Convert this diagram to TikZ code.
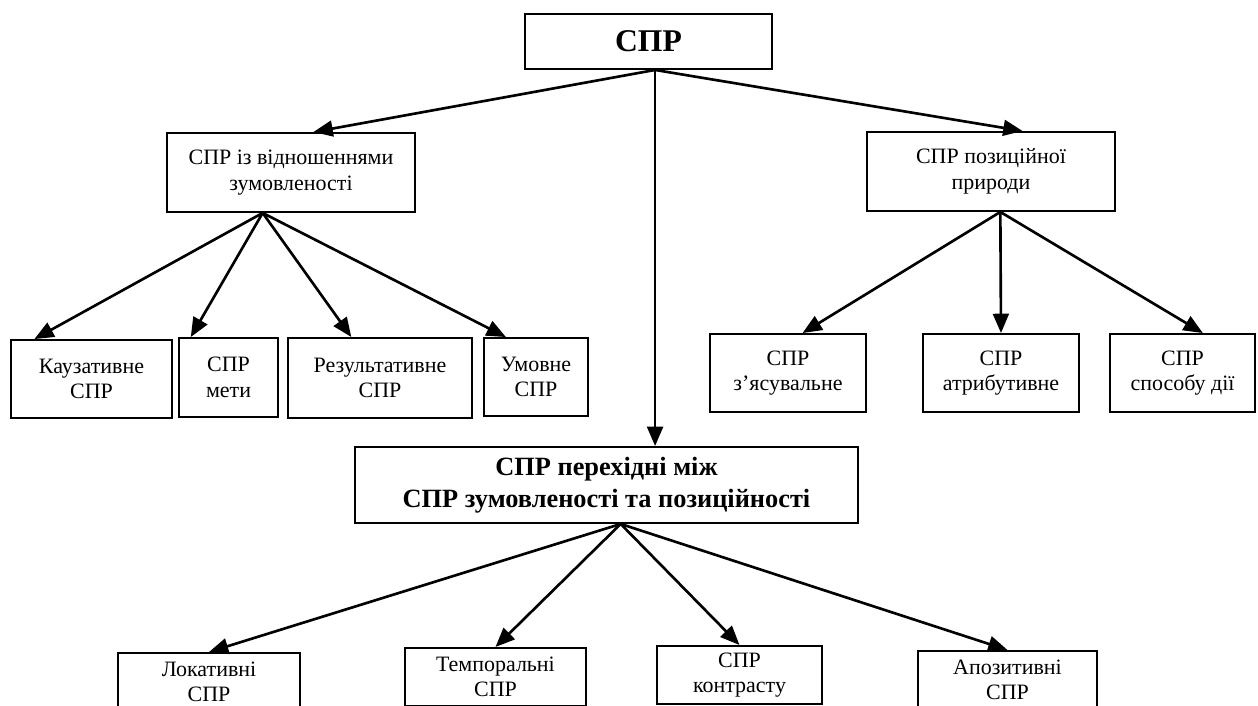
\documentclass[tikz,border=0pt]{standalone}
\usepackage{fontspec}
\setmainfont{Liberation Serif}
\usetikzlibrary{arrows.meta,positioning}

\begin{document}
\begin{tikzpicture}[
    x=0.02cm, y=-0.02cm,
    blk/.style={rectangle, draw, line width=1.1pt, align=center, inner sep=0pt,
                font=\fontsize{12.5}{14.5}\selectfont},
    leaf/.style={blk, anchor=north, minimum height=1.16cm},
    arr/.style={-{Triangle[length=11pt,width=9pt]}, line width=1.5pt}
  ]

  % ---- Frame ----
  \clip (0,0) rectangle (1258,706);

  % ---- Root ----
  \node[blk, font=\fontsize{18}{20}\selectfont\bfseries,
        minimum width=4.94cm, minimum height=1.1cm]
    (root) at (648.5,41.5) {СПР};

  % ---- Second level ----
  \node[blk, minimum width=4.96cm, minimum height=1.58cm]
    (cond) at (291,172.5) {СПР із відношеннями\\зумовленості};
  \node[blk, minimum width=4.96cm, minimum height=1.58cm]
    (pos) at (991,171.5) {СПР позиційної\\природи};
  \node[blk, font=\fontsize{15}{18}\selectfont\bfseries,
        minimum width=10.06cm, minimum height=1.52cm]
    (trans) at (606.5,485) {СПР перехідні між\\СПР зумовленості та позиційності};

  % ---- Conditional group ----
  \node[blk, minimum width=3.22cm, minimum height=1.56cm]
    (kauz) at (91.5,379) {Каузативне\\СПР};
  \node[blk, minimum width=1.98cm, minimum height=1.58cm]
    (meta) at (228.5,377.5) {СПР\\мети};
  \node[blk, minimum width=3.68cm, minimum height=1.6cm]
    (rez) at (380,378) {Результативне\\СПР};
  \node[blk, minimum width=2.08cm, minimum height=1.56cm]
    (umov) at (536,377) {Умовне\\СПР};

  % ---- Positional group ----
  \node[blk, minimum width=3.12cm, minimum height=1.56cm]
    (zyas) at (788,373) {СПР\\з’ясувальне};
  \node[blk, minimum width=3.12cm, minimum height=1.56cm]
    (atr) at (1001,373) {СПР\\атрибутивне};
  \node[blk, minimum width=2.9cm, minimum height=1.56cm]
    (spos) at (1182.5,373) {СПР\\способу дії};

  % ---- Transitional group ----
  \node[leaf, minimum width=3.64cm] (lok) at (209,652) {Локативні\\СПР};
  \node[leaf, minimum width=3.62cm] (temp) at (495.5,647) {Темпоральні\\СПР};
  \node[leaf, minimum width=3.3cm] (kontr) at (739.5,645) {СПР\\контрасту};
  \node[leaf, minimum width=3.58cm] (apoz) at (1007.5,650) {Апозитивні\\СПР};

  % ---- Arrows ----
  \draw[arr] (root.-77) -- (cond.61);
  \draw[arr] (root.-77) -- (pos.52);
  \draw[arr] (root.-77) -- (root.-77 |- trans.north);

  \draw[arr] (cond.-125) -- (kauz.145);
  \draw[arr] (cond.-125) -- (meta.133);
  \draw[arr] (cond.-125) -- (rez.125);
  \draw[arr] (cond.-125) -- (umov.127);

  \draw[arr] (pos.-77) -- (zyas.70);
  \draw[arr] (pos.-77) -- (atr.north);
  \draw[arr] (pos.-77) -- (spos.63);

  \foreach \n in {lok,temp,kontr,apoz}{
    \draw[arr] (trans.-70) -- (\n.north);
  }

\end{tikzpicture}
\end{document}
